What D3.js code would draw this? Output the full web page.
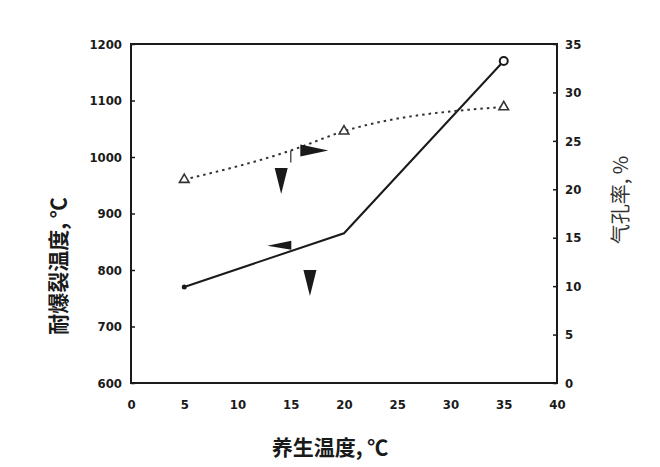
<!DOCTYPE html>
<html><head><meta charset="utf-8">
<script src="https://cdn.jsdelivr.net/npm/d3@7"></script>
<style>body{margin:0;background:#fff}</style>
</head><body>
<svg id="c" width="660" height="467"></svg>
<script>
// data
const xTicks = [0,5,10,15,20,25,30,35,40];
const leftTicks = [600,700,800,900,1000,1100,1200];
const rightTicks = [0,5,10,15,20,25,30,35];
const burstX = [5,20,35];
const burstTemp = [770,865,1170];       // 耐爆裂温度, ℃ (left axis)
const poreX = [5,15,20,35];
const porosity = [21,24,26,28.5];       // 气孔率, % (right axis)
// annotation wedges (data units)
const wedges = [
  {x:15.9, y:24.0, axis:"r", dir:"right"},
  {x:14.1, y:22.2, axis:"r", dir:"down"},
  {x:12.8, y:843, axis:"l", dir:"left"},
  {x:16.8, y:800, axis:"l", dir:"down"}
];

const svg = d3.select("#c");
const L=131, R=557, T=44, B=383;
const x = d3.scaleLinear().domain([0,40]).range([L,R]);
const yl = d3.scaleLinear().domain([600,1200]).range([B,T]);
const yr = d3.scaleLinear().domain([0,35]).range([B,T]);
const ink="#1a1a1a";

svg.append("rect").attr("x",L).attr("y",T).attr("width",R-L).attr("height",B-T)
  .attr("fill","none").attr("stroke",ink).attr("stroke-width",2);

const tf = "bold 13px 'DejaVu Sans Condensed', 'DejaVu Sans', sans-serif";
const gl = svg.append("g").attr("transform",`translate(${L},0)`)
  .call(d3.axisLeft(yl).tickValues(leftTicks).tickSize(-4).tickPadding(9).tickFormat(d3.format("d")));
const gr = svg.append("g").attr("transform",`translate(${R},0)`)
  .call(d3.axisRight(yr).tickValues(rightTicks).tickSize(-4).tickPadding(8).tickFormat(d3.format("d")));
const gx = svg.append("g").attr("transform",`translate(0,${B})`)
  .call(d3.axisBottom(x).tickValues(xTicks).tickSize(0).tickPadding(17).tickFormat(d3.format("d")));
[gl,gr,gx].forEach(g=>{
  g.select(".domain").remove();
  g.selectAll("line").attr("stroke",ink).attr("stroke-width",1.5);
  g.selectAll("text").style("font",tf).attr("fill",ink);
});

const lineL = d3.line().x((d,i)=>x(burstX[i])).y(d=>yl(d));
svg.append("path").attr("d",lineL(burstTemp)).attr("fill","none").attr("stroke",ink).attr("stroke-width",2);
const lineR = d3.line().x((d,i)=>x(poreX[i])).y(d=>yr(d)).curve(d3.curveMonotoneX);
svg.append("path").attr("d",lineR(porosity)).attr("fill","none").attr("stroke","#333")
  .attr("stroke-width",2).attr("stroke-dasharray","2.5,4");

svg.append("circle").attr("cx",x(burstX[2])).attr("cy",yl(burstTemp[2])).attr("r",4)
  .attr("fill","#fff").attr("stroke",ink).attr("stroke-width",2);
svg.append("circle").attr("cx",x(burstX[0])).attr("cy",yl(burstTemp[0])).attr("r",2.5).attr("fill",ink);
const tri = d3.symbol().type(d3.symbolTriangle).size(40);
[0,2,3].forEach(i=>{
  svg.append("path").attr("d",tri()).attr("transform",`translate(${x(poreX[i])},${yr(porosity[i])})`)
    .attr("fill","#fff").attr("stroke","#333").attr("stroke-width",1.6);
});
svg.append("line").attr("x1",x(poreX[1])).attr("x2",x(poreX[1]))
  .attr("y1",yr(porosity[1])).attr("y2",yr(porosity[1])+12).attr("stroke","#555").attr("stroke-width",1.5);

function wedge(dir){
  if(dir==="right") return "M0,-6 L28,0 L0,6 Z";
  if(dir==="left") return "M0,0 L24,-5 L24,4 Z";
  return "M-6.5,0 L6.5,0 L0,26 Z";
}
wedges.forEach(w=>{
  const yy = w.axis==="r"? yr(w.y): yl(w.y);
  svg.append("path").attr("d",wedge(w.dir)).attr("transform",`translate(${x(w.x)},${yy})`).attr("fill",ink);
});

const lf = "bold 21px 'Noto Sans CJK SC', sans-serif";
svg.append("text").attr("transform","translate(66,266) rotate(-90)").attr("text-anchor","middle")
  .style("font",lf).attr("fill",ink).text("耐爆裂温度, ℃");
svg.append("text").attr("transform","translate(628,200) rotate(-90)").attr("text-anchor","middle")
  .style("font","20px 'Noto Sans CJK SC', sans-serif").attr("fill","#333").text("气孔率, %");
svg.append("text").attr("x",330).attr("y",455).attr("text-anchor","middle")
  .style("font",lf).attr("fill",ink).text("养生温度, ℃");
</script>
</body></html>
